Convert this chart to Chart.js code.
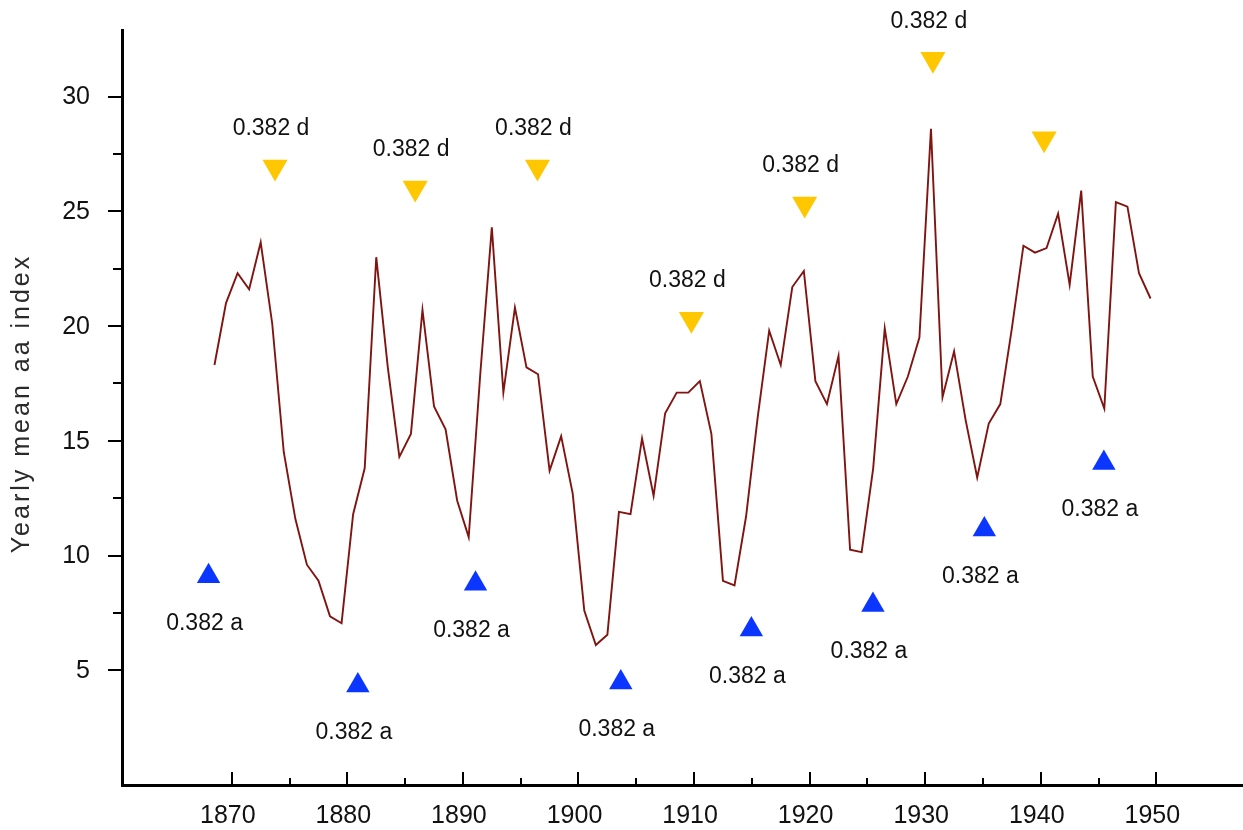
<!DOCTYPE html>
<html>
<head>
<meta charset="utf-8">
<title>Yearly mean aa index</title>
<script src="https://cdn.jsdelivr.net/npm/chart.js@4/dist/chart.umd.min.js"></script>
<style>
  html, body { margin: 0; padding: 0; background: #ffffff; overflow: hidden; }
  canvas { display: block; }
</style>
</head>
<body>
<canvas id="chart" width="1243" height="830"></canvas>
<script>
// Yearly means of the aa geomagnetic index (plotted at mid-year)
const years = [
  1868, 1869, 1870, 1871, 1872, 1873, 1874, 1875, 1876, 1877,
  1878, 1879, 1880, 1881, 1882, 1883, 1884, 1885, 1886, 1887,
  1888, 1889, 1890, 1891, 1892, 1893, 1894, 1895, 1896, 1897,
  1898, 1899, 1900, 1901, 1902, 1903, 1904, 1905, 1906, 1907,
  1908, 1909, 1910, 1911, 1912, 1913, 1914, 1915, 1916, 1917,
  1918, 1919, 1920, 1921, 1922, 1923, 1924, 1925, 1926, 1927,
  1928, 1929, 1930, 1931, 1932, 1933, 1934, 1935, 1936, 1937,
  1938, 1939, 1940, 1941, 1942, 1943, 1944, 1945, 1946, 1947,
  1948, 1949
];
const aaIndex = [
  18.3, 21.0, 22.3, 21.6, 23.65, 20.1, 14.5, 11.6, 9.6, 8.9,
  7.35, 7.05, 11.8, 13.8, 23.0, 18.2, 14.3, 15.3, 20.7, 16.5,
  15.5, 12.4, 10.8, 17.9, 24.3, 17.1, 20.8, 18.2, 17.9, 13.7,
  15.2, 12.7, 7.6, 6.1, 6.55, 11.9, 11.8, 15.1, 12.6, 16.2,
  17.1, 17.1, 17.6, 15.3, 8.9, 8.7, 11.7, 16.0, 19.8, 18.3,
  21.7, 22.4, 17.6, 16.6, 18.7, 10.25, 10.15, 13.8, 19.9, 16.6,
  17.8, 19.5, 28.6, 16.9, 18.9, 15.9, 13.4, 15.75, 16.6, 19.9,
  23.5, 23.2, 23.4, 24.9, 21.8, 25.9, 17.8, 16.4, 25.4, 25.2,
  22.3, 21.2
];

// Projected maxima (down markers) and minima (up markers)
const peakYears   = [1873.74, 1885.87, 1896.45, 1909.77, 1919.57, 1930.67, 1940.29];
const peakLevels  = [26.93, 26.02, 26.93, 20.30, 25.32, 31.62, 28.16];
const peakLabels  = ['0.382 d', '0.382 d', '0.382 d', '0.382 d', '0.382 d', '0.382 d', ''];

const troughYears  = [1867.99, 1880.91, 1891.09, 1903.66, 1914.96, 1925.48, 1935.12, 1945.46];
const troughLevels = [9.10, 4.34, 8.77, 4.47, 6.78, 7.84, 11.13, 14.03];
const troughLabels = ['0.382 a', '0.382 a', '0.382 a', '0.382 a', '0.382 a', '0.382 a', '0.382 a', '0.382 a'];

// Axis ticks and title
const xTickLabels = [1870, 1880, 1890, 1900, 1910, 1920, 1930, 1940, 1950];
const yTickLabels = [5, 10, 15, 20, 25, 30];
const yAxisTitle = 'Yearly mean aa index';

const FONT = '"Liberation Sans", Arial, Helvetica, sans-serif';

const lineData   = years.map((yr, i) => ({ x: yr + 0.5, y: aaIndex[i] }));
const peakData   = peakYears.map((yr, i) => ({ x: yr, y: peakLevels[i] }));
const troughData = troughYears.map((yr, i) => ({ x: yr, y: troughLevels[i] }));

// Keep the plot frame fixed: no extra room reserved for edge labels
const noEdgePadding = s => {
  s.paddingTop = 0; s.paddingBottom = 0; s.paddingLeft = 0; s.paddingRight = 0;
};

// Major ticks at the labelled values, minor ticks halfway between them;
// x ticks point into the plot, y ticks point outwards.
const tickMarks = {
  id: 'tickMarks',
  afterDraw(chart) {
    const { ctx, chartArea, scales } = chart;
    const xs = scales.x, ys = scales.y;
    ctx.save();
    ctx.strokeStyle = '#000';
    ctx.lineWidth = 2;
    ctx.lineCap = 'butt';
    const seg = (x1, y1, x2, y2) => { ctx.beginPath(); ctx.moveTo(x1, y1); ctx.lineTo(x2, y2); ctx.stroke(); };
    const bottom = chartArea.bottom, left = chartArea.left;
    xTickLabels.forEach((v, i) => {
      const px = Math.round(xs.getPixelForValue(v));
      seg(px, bottom, px, bottom - 13);
      if (i < xTickLabels.length - 1) {
        const pm = Math.round(xs.getPixelForValue((v + xTickLabels[i + 1]) / 2));
        seg(pm, bottom, pm, bottom - 7);
      }
    });
    yTickLabels.forEach((v, i) => {
      const py = Math.round(ys.getPixelForValue(v));
      seg(left, py, left - 14, py);
      if (i < yTickLabels.length - 1) {
        const pm = Math.round(ys.getPixelForValue((v + yTickLabels[i + 1]) / 2));
        seg(left, pm, left - 9, pm);
      }
    });
    ctx.restore();
  }
};

// Text captions beside the projected-extreme markers
const markerCaptions = {
  id: 'markerCaptions',
  afterDatasetsDraw(chart) {
    const { ctx } = chart;
    ctx.save();
    ctx.font = '23px ' + FONT;
    ctx.fillStyle = '#111';
    ctx.textAlign = 'center';
    ctx.textBaseline = 'middle';
    const put = (dsIndex, labels, dy) => {
      chart.getDatasetMeta(dsIndex).data.forEach((pt, i) => {
        if (labels[i]) ctx.fillText(labels[i], pt.x - 4, pt.y + dy);
      });
    };
    put(1, peakLabels, -38);
    put(2, troughLabels, 47);
    ctx.restore();
  }
};

// Rotated y-axis title with a little letter spacing
const axisTitle = {
  id: 'axisTitle',
  afterDraw(chart) {
    const { ctx, chartArea } = chart;
    ctx.save();
    ctx.translate(22.5, (chartArea.top + chartArea.bottom) / 2 - 4);
    ctx.rotate(-Math.PI / 2);
    ctx.font = '25px ' + FONT;
    if ('letterSpacing' in ctx) ctx.letterSpacing = '3px';
    ctx.fillStyle = '#2a2a2a';
    ctx.textAlign = 'center';
    ctx.textBaseline = 'middle';
    ctx.fillText(yAxisTitle, 0, 0);
    ctx.restore();
  }
};

new Chart(document.getElementById('chart'), {
  type: 'scatter',
  data: {
    datasets: [
      {
        type: 'line',
        data: lineData,
        borderColor: '#801410',
        borderWidth: 1.9,
        pointRadius: 0,
        tension: 0,
        fill: false
      },
      {
        data: peakData,
        pointStyle: 'triangle',
        rotation: 180,
        pointRadius: 14.5,
        backgroundColor: '#FFC700',
        borderWidth: 0
      },
      {
        data: troughData,
        pointStyle: 'triangle',
        rotation: 0,
        pointRadius: 13.5,
        backgroundColor: '#0B36FF',
        borderWidth: 0
      }
    ]
  },
  options: {
    responsive: false,
    devicePixelRatio: 1,
    animation: false,
    events: [],
    layout: { autoPadding: false, padding: { top: 30, right: 0, bottom: 0, left: 0 } },
    plugins: {
      legend: { display: false },
      tooltip: { enabled: false },
      title: { display: false }
    },
    scales: {
      x: {
        type: 'linear',
        min: 1860.5,
        max: 1957.5,
        afterBuildTicks: s => { s.ticks = xTickLabels.map(v => ({ value: v })); },
        afterFit: s => { s.height = 45; noEdgePadding(s); },
        grid: { display: false, drawTicks: false, tickLength: 0 },
        border: { display: true, color: '#000', width: 3 },
        ticks: {
          autoSkip: false,
          maxRotation: 0,
          minRotation: 0,
          padding: 16,
          labelOffset: -4,
          color: '#111',
          font: { family: FONT, size: 25 },
          callback: v => String(v)
        }
      },
      y: {
        type: 'linear',
        min: 0,
        max: 32.9,
        afterBuildTicks: s => { s.ticks = yTickLabels.map(v => ({ value: v })); },
        afterFit: s => { s.width = 122; noEdgePadding(s); },
        grid: { display: false, drawTicks: false, tickLength: 0 },
        border: { display: true, color: '#000', width: 3 },
        ticks: {
          autoSkip: false,
          padding: 32,
          labelOffset: 1,
          color: '#111',
          font: { family: FONT, size: 25 },
          callback: v => String(v)
        }
      }
    }
  },
  plugins: [tickMarks, markerCaptions, axisTitle]
});
</script>
</body>
</html>
